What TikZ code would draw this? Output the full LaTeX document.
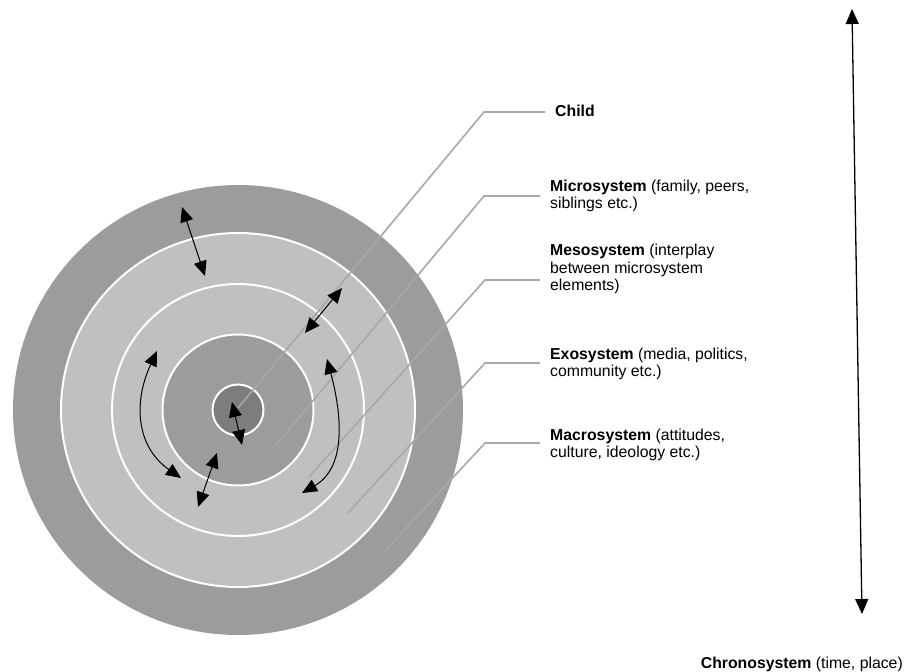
\documentclass[tikz,border=0pt]{standalone}
\usepackage{fontspec}
\setmainfont{Liberation Sans}
\usetikzlibrary{arrows.meta}

\definecolor{ringdark}{HTML}{9C9C9C}
\definecolor{ringlight}{HTML}{C0C0C0}
\definecolor{core}{HTML}{7D7D7D}
\definecolor{leadergray}{HTML}{A8A8A8}

\begin{document}
\begin{tikzpicture}[x=1pt, y=-1pt,
    ring/.style={draw=white, line width=2pt},
    leader/.style={draw=leadergray, line width=1.6pt},
    dbl/.style={{Triangle[length=15pt,width=13pt]}-{Triangle[length=15pt,width=13pt]}, line width=1pt},
    lbl/.style={anchor=west, align=left, inner xsep=10pt, inner ysep=0pt, font=\fontsize{15.8}{17.2}\selectfont}]
    \useasboundingbox (0,0) rectangle (906,672);

    % nested systems around the child
    \coordinate (ctr) at (238,410);
    \fill[ringdark] (ctr) circle (225pt);
    \draw[ring, fill=ringlight] (ctr) circle (177pt);
    \draw[ring, fill=ringlight] (ctr) circle (126pt);
    \draw[ring, fill=ringdark] (ctr) circle (75.5pt);
    \draw[ring, fill=core] (ctr) circle (25.5pt);

    % labels on the right
    \node[lbl] (child) at (545,111) {\textbf{Child}};
    \node[lbl] (micro) at (540,196) {\textbf{Microsystem} (family, peers,\\siblings etc.)};
    \node[lbl] (meso) at (540,269) {\textbf{Mesosystem} (interplay\\between microsystem\\elements)};
    \node[lbl] (exo) at (540,364) {\textbf{Exosystem} (media, politics,\\community etc.)};
    \node[lbl] (macro) at (540,445) {\textbf{Macrosystem} (attitudes,\\culture, ideology etc.)};
    \node[lbl, anchor=east, inner xsep=0pt] (chrono) at (903,664) {\textbf{Chronosystem} (time, place)};

    % leader lines: start in the ring, bend at the corner
    \coordinate (childP) at (238,408);  \coordinate (childK) at (484,112);
    \coordinate (microP) at (276,445);  \coordinate (microK) at (484,196);
    \coordinate (mesoP) at (309,477);   \coordinate (mesoK) at (485,280);
    \coordinate (exoP) at (348,513);    \coordinate (exoK) at (485,363);
    \coordinate (macroP) at (386,550);  \coordinate (macroK) at (485,443);
    \foreach \n in {child, micro, meso, exo, macro}
        \draw[leader] (\n P) -- (\n K) -- (\n K -| \n.west);

    % interactions between the layers
    \coordinate (a1) at (182,207);  \coordinate (b1) at (205,276);
    \coordinate (a2) at (342,288);  \coordinate (b2) at (305,333);
    \coordinate (a3) at (217,453);  \coordinate (b3) at (198,507);
    \coordinate (a4) at (232,402);  \coordinate (b4) at (242,445);
    \foreach \i in {1,...,4}
        \draw[dbl] (a\i) -- (b\i);
    \coordinate (l1) at (157,351);  \coordinate (l2) at (181,478);
    \coordinate (r1) at (327,359);  \coordinate (r2) at (302,493);
    \draw[dbl] (l1) to[out=245, in=145, looseness=1.1] (l2);
    \draw[dbl] (r1) to[out=-75, in=30] (r2);

    % time axis
    \coordinate (tTop) at (852,9);
    \coordinate (tBot) at (862,614);
    \draw[dbl, line width=1.3pt] (tTop) -- (tBot);
\end{tikzpicture}
\end{document}
